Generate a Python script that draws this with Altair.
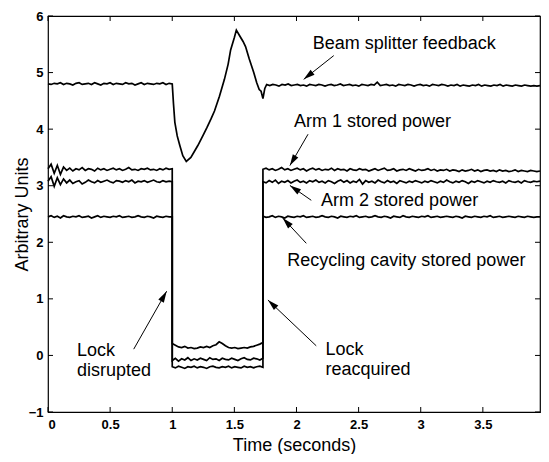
import math
import altair as alt
import pandas as pd

# ---------------- data ----------------
X_MAX = 3.96
Y_MIN, Y_MAX = -1, 6
X_TICKS = [0, 0.5, 1, 1.5, 2, 2.5, 3, 3.5]
Y_TICKS = [-1, 0, 1, 2, 3, 4, 5, 6]

T_DROP = 1.0      # lock disrupted
T_RELOCK = 1.73   # lock reacquired

# Beam splitter feedback
BS_PRE = [4.80, 4.79, 4.81, 4.80, 4.82, 4.79, 4.81, 4.80, 4.78, 4.81, 4.82, 4.79, 4.80, 4.81,
          4.79, 4.82, 4.80, 4.78, 4.81, 4.80, 4.82, 4.79, 4.81, 4.80, 4.79, 4.82, 4.80, 4.81,
          4.78, 4.80, 4.82, 4.79, 4.81, 4.80, 4.79, 4.81, 4.80, 4.82, 4.79, 4.81, 4.80]
BS_T_TRANS = [1.0, 1.01, 1.021, 1.04, 1.061, 1.085, 1.113, 1.15, 1.206, 1.25,
              1.28, 1.312, 1.34, 1.38, 1.42, 1.45, 1.47, 1.50, 1.516, 1.54,
              1.57, 1.59, 1.62, 1.656, 1.68, 1.70, 1.715, 1.73, 1.745]
BS_V_TRANS = [4.80, 4.45, 4.12, 3.88, 3.71, 3.53, 3.43, 3.50, 3.71, 3.90,
              4.03, 4.18, 4.32, 4.58, 4.88, 5.15, 5.40, 5.62, 5.75, 5.66,
              5.55, 5.46, 5.24, 5.00, 4.82, 4.70, 4.67, 4.54, 4.72]
BS_POST = [4.79, 4.77, 4.79, 4.78, 4.76, 4.79, 4.78, 4.80, 4.77, 4.78,
           4.79, 4.77, 4.78, 4.76, 4.79, 4.78, 4.77, 4.79, 4.78, 4.76,
           4.78, 4.79, 4.77, 4.78, 4.80, 4.77, 4.78, 4.79, 4.77, 4.78,
           4.76, 4.79, 4.78, 4.77, 4.79, 4.78, 4.83, 4.77, 4.78, 4.79,
           4.77, 4.78, 4.76, 4.79, 4.78, 4.77, 4.79, 4.78, 4.76, 4.78,
           4.79, 4.77, 4.78, 4.76, 4.79, 4.78, 4.77, 4.79, 4.78, 4.76,
           4.78, 4.77, 4.79, 4.76, 4.78, 4.77, 4.76, 4.78, 4.77, 4.79,
           4.76, 4.78, 4.77, 4.76, 4.78, 4.77, 4.79, 4.76, 4.78, 4.77,
           4.76, 4.78, 4.77, 4.76, 4.78, 4.77, 4.76, 4.77, 4.76, 4.77]

# Arm 1 stored power
ARM1_PRE = [3.30, 3.38, 3.22, 3.36, 3.20, 3.33, 3.27, 3.31, 3.26, 3.30, 3.28, 3.32, 3.27, 3.30,
            3.29, 3.26, 3.31, 3.28, 3.30, 3.27, 3.29, 3.31, 3.28, 3.30, 3.27, 3.29, 3.32, 3.28,
            3.29, 3.27, 3.30, 3.29, 3.31, 3.28, 3.29, 3.27, 3.30, 3.28, 3.31, 3.29, 3.30]
ARM1_LOW = [-0.09, -0.05, -0.10, -0.06, -0.08, -0.04, -0.09, -0.06, -0.08, -0.05,
            -0.07, -0.09, -0.04, -0.07, -0.06, -0.09, -0.05, -0.07, -0.08, -0.05,
            -0.07, -0.09, -0.06, -0.04, -0.07, -0.08, -0.05, -0.06, -0.08, -0.05]
ARM1_POST = [3.29, 3.31, 3.28, 3.30, 3.27, 3.29, 3.32, 3.28, 3.30, 3.27,
             3.29, 3.31, 3.28, 3.30, 3.26, 3.29, 3.31, 3.28, 3.30, 3.27,
             3.29, 3.28, 3.31, 3.27, 3.30, 3.28, 3.29, 3.26, 3.30, 3.28,
             3.27, 3.30, 3.28, 3.29, 3.26, 3.28, 3.30, 3.27, 3.29, 3.31,
             3.27, 3.28, 3.30, 3.26, 3.28, 3.29, 3.27, 3.30, 3.28, 3.26,
             3.29, 3.27, 3.28, 3.30, 3.27, 3.29, 3.26, 3.28, 3.27, 3.29,
             3.26, 3.28, 3.27, 3.25, 3.28, 3.26, 3.27, 3.29, 3.26, 3.28,
             3.25, 3.27, 3.28, 3.26, 3.27, 3.25, 3.28, 3.26, 3.27, 3.25,
             3.26, 3.28, 3.25, 3.27, 3.26, 3.25, 3.27, 3.26, 3.25, 3.26]

# Arm 2 stored power
ARM2_PRE = [3.08, 3.16, 2.99, 3.14, 3.02, 3.12, 3.05, 3.10, 3.04, 3.07, 3.09, 3.03, 3.06, 3.10,
            3.07, 3.05, 3.09, 3.06, 3.08, 3.10, 3.07, 3.05, 3.09, 3.08, 3.06, 3.09, 3.07, 3.10,
            3.05, 3.08, 3.07, 3.09, 3.06, 3.08, 3.10, 3.07, 3.06, 3.09, 3.07, 3.08, 3.07]
ARM2_LOW = [-0.20, -0.22, -0.19, -0.21, -0.23, -0.20, -0.21, -0.19, -0.22, -0.20,
            -0.21, -0.23, -0.20, -0.19, -0.21, -0.22, -0.20, -0.21, -0.19, -0.22,
            -0.20, -0.21, -0.22, -0.19, -0.21, -0.20, -0.22, -0.20, -0.19, -0.21]
ARM2_POST = [3.07, 3.05, 3.09, 3.06, 3.10, 3.04, 3.08, 3.06, 3.09, 3.05,
             3.08, 3.10, 3.06, 3.08, 3.05, 3.09, 3.07, 3.10, 3.06, 3.08,
             3.05, 3.09, 3.07, 3.04, 3.08, 3.10, 3.06, 3.09, 3.05, 3.08,
             3.06, 3.11, 3.03, 3.09, 3.06, 3.08, 3.05, 3.10, 3.07, 3.05,
             3.09, 3.06, 3.08, 3.04, 3.09, 3.07, 3.05, 3.08, 3.06, 3.09,
             3.07, 3.05, 3.08, 3.06, 3.09, 3.07, 3.05, 3.08, 3.06, 3.10,
             3.07, 3.05, 3.08, 3.06, 3.09, 3.07, 3.04, 3.08, 3.06, 3.09,
             3.07, 3.05, 3.08, 3.06, 3.09, 3.07, 3.06, 3.08, 3.05, 3.09,
             3.07, 3.06, 3.08, 3.05, 3.09, 3.07, 3.06, 3.08, 3.07, 3.08]

# Recycling cavity stored power
RC_PRE = [2.45, 2.47, 2.44, 2.46, 2.43, 2.47, 2.45, 2.44, 2.46, 2.45, 2.47, 2.44, 2.45, 2.46,
          2.43, 2.45, 2.47, 2.44, 2.46, 2.45, 2.44, 2.46, 2.45, 2.47, 2.44, 2.45, 2.46, 2.44,
          2.45, 2.47, 2.45, 2.44, 2.46, 2.45, 2.43, 2.46, 2.45, 2.44, 2.46, 2.45, 2.45]
RC_LOW = [0.21, 0.18, 0.15, 0.14, 0.16, 0.13, 0.14, 0.12, 0.13, 0.15,
          0.14, 0.16, 0.14, 0.17, 0.19, 0.24, 0.21, 0.17, 0.14, 0.13,
          0.14, 0.12, 0.13, 0.14, 0.13, 0.15, 0.16, 0.18, 0.20, 0.23]
RC_POST = [2.46, 2.44, 2.45, 2.47, 2.44, 2.46, 2.45, 2.43, 2.46, 2.45,
           2.44, 2.46, 2.45, 2.47, 2.44, 2.45, 2.46, 2.44, 2.45, 2.47,
           2.45, 2.44, 2.46, 2.45, 2.43, 2.46, 2.45, 2.44, 2.46, 2.45,
           2.47, 2.44, 2.45, 2.46, 2.44, 2.45, 2.47, 2.45, 2.44, 2.46,
           2.45, 2.43, 2.46, 2.45, 2.44, 2.47, 2.45, 2.44, 2.46, 2.45,
           2.44, 2.46, 2.45, 2.47, 2.44, 2.45, 2.46, 2.44, 2.45, 2.46,
           2.45, 2.44, 2.46, 2.45, 2.43, 2.46, 2.45, 2.44, 2.46, 2.45,
           2.44, 2.46, 2.45, 2.47, 2.44, 2.45, 2.46, 2.44, 2.45, 2.46,
           2.45, 2.44, 2.46, 2.45, 2.44, 2.46, 2.45, 2.44, 2.45, 2.45]

# annotation labels: (x, y of first baseline, text)
LABEL_X = [2.13, 1.98, 2.198, 1.926, 0.233, 2.233]
LABEL_Y = [5.416, 4.03, 2.644, 1.574, -0.006, 0.005]
LABEL_TEXT = ["Beam splitter feedback", "Arm 1 stored power", "Arm 2 stored power",
              "Recycling cavity stored power", "Lock\ndisrupted", "Lock\nreacquired"]

# arrows: tail -> tip
ARROW_X = [2.30, 2.093, 2.119, 2.079, 0.690, 2.159]
ARROW_Y = [5.30, 3.91, 2.742, 1.982, 0.111, 0.170]
ARROW_X2 = [2.058, 1.947, 1.947, 1.889, 0.955, 1.77]
ARROW_Y2 = [4.88, 3.356, 3.005, 2.43, 1.135, 0.98]

# ---------------- layout ----------------
W, H = 492, 396
FONT = "Liberation Sans"


def grid(a, b, n):
    return [a + (b - a) * i / (n - 1) for i in range(n)]


rows = []


def add(series, ts, vs):
    for t, v in zip(ts, vs):
        rows.append({"series": series, "t": t, "v": v, "idx": len(rows)})


add("bs", grid(0, T_DROP, len(BS_PRE)), BS_PRE)
add("bs", BS_T_TRANS, BS_V_TRANS)
add("bs", grid(1.76, X_MAX, len(BS_POST)), BS_POST)
for name, pre, low, post in [("arm1", ARM1_PRE, ARM1_LOW, ARM1_POST),
                             ("arm2", ARM2_PRE, ARM2_LOW, ARM2_POST),
                             ("rc", RC_PRE, RC_LOW, RC_POST)]:
    add(name, grid(0, T_DROP, len(pre)), pre)
    add(name, grid(T_DROP, T_RELOCK, len(low)), low)
    add(name, grid(T_RELOCK, X_MAX, len(post)), post)
lines_df = pd.DataFrame(rows)

xs = alt.Scale(domain=[0, X_MAX], nice=False, zero=False)
ys = alt.Scale(domain=[Y_MIN, Y_MAX], nice=False, zero=False)

lines = alt.Chart(lines_df).mark_line(color="black", strokeWidth=1.7).encode(
    x=alt.X("t:Q", scale=xs,
            axis=alt.Axis(values=X_TICKS, format="~g", ticks=False, domain=False, grid=False,
                          labelFontSize=13, labelFontWeight="bold", labelPadding=6,
                          labelColor="black",
                          title="Time (seconds)", titleFontSize=18, titleFontWeight="normal",
                          titleColor="black", titleBaseline="alphabetic", titleY=38)),
    y=alt.Y("v:Q", scale=ys,
            axis=alt.Axis(values=Y_TICKS, format="~g", ticks=False, domain=False, grid=False,
                          labelFontSize=13, labelFontWeight="bold", labelPadding=5,
                          labelColor="black",
                          title="Arbitrary Units", titleFontSize=18, titleFontWeight="normal",
                          titleColor="black", titleBaseline="alphabetic", titleX=-21)),
    detail="series:N",
    order="idx:Q",
)

# inward tick marks on all four sides
xt = pd.DataFrame({"t": X_TICKS})
yt = pd.DataFrame({"v": Y_TICKS})
tick_b = alt.Chart(xt).mark_rule(color="black", strokeWidth=1).encode(
    x=alt.X("t:Q", scale=xs), y=alt.value(H), y2=alt.value(H - 5))
tick_t = alt.Chart(xt).mark_rule(color="black", strokeWidth=1).encode(
    x=alt.X("t:Q", scale=xs), y=alt.value(0), y2=alt.value(5))
tick_l = alt.Chart(yt).mark_rule(color="black", strokeWidth=1).encode(
    y=alt.Y("v:Q", scale=ys), x=alt.value(0), x2=alt.value(5))
tick_r = alt.Chart(yt).mark_rule(color="black", strokeWidth=1).encode(
    y=alt.Y("v:Q", scale=ys), x=alt.value(W), x2=alt.value(W - 5))

# annotation text
lab_df = pd.DataFrame({"x": LABEL_X, "y": LABEL_Y, "text": LABEL_TEXT})
labels = alt.Chart(lab_df).mark_text(
    align="left", baseline="alphabetic", font=FONT, fontSize=18, color="black",
    lineBreak="\n", lineHeight=20,
).encode(
    x=alt.X("x:Q", scale=xs),
    y=alt.Y("y:Q", scale=ys),
    text="text:N",
)

# arrows
ang = []
for x, y, x2, y2 in zip(ARROW_X, ARROW_Y, ARROW_X2, ARROW_Y2):
    dx = (x2 - x) * W / X_MAX
    dy = -(y2 - y) * H / (Y_MAX - Y_MIN)
    ang.append(math.degrees(math.atan2(dx, -dy)) % 360)
arr_df = pd.DataFrame({"x": ARROW_X, "y": ARROW_Y, "x2": ARROW_X2, "y2": ARROW_Y2, "angle": ang})
shafts = alt.Chart(arr_df).mark_rule(color="black", strokeWidth=1).encode(
    x=alt.X("x:Q", scale=xs), y=alt.Y("y:Q", scale=ys), x2="x2:Q", y2="y2:Q")
heads = alt.Chart(arr_df).mark_point(
    shape="M0,0L0.45,1.6L-0.45,1.6Z", filled=True, color="black", opacity=1, size=200
).encode(
    x=alt.X("x2:Q", scale=xs), y=alt.Y("y2:Q", scale=ys),
    angle=alt.Angle("angle:Q", scale=None),
)

chart = alt.layer(lines, tick_b, tick_t, tick_l, tick_r, shafts, heads, labels).properties(
    width=W, height=H,
    autosize=alt.AutoSizeParams(type="none"),
    padding={"left": 40, "top": 8, "right": 1, "bottom": 42},
).configure(font=FONT).configure_view(
    stroke="black", strokeWidth=1.2
).configure_axis(labelFont=FONT, titleFont=FONT)

chart.save("out.html", embed_options={"renderer": "svg", "actions": False})
